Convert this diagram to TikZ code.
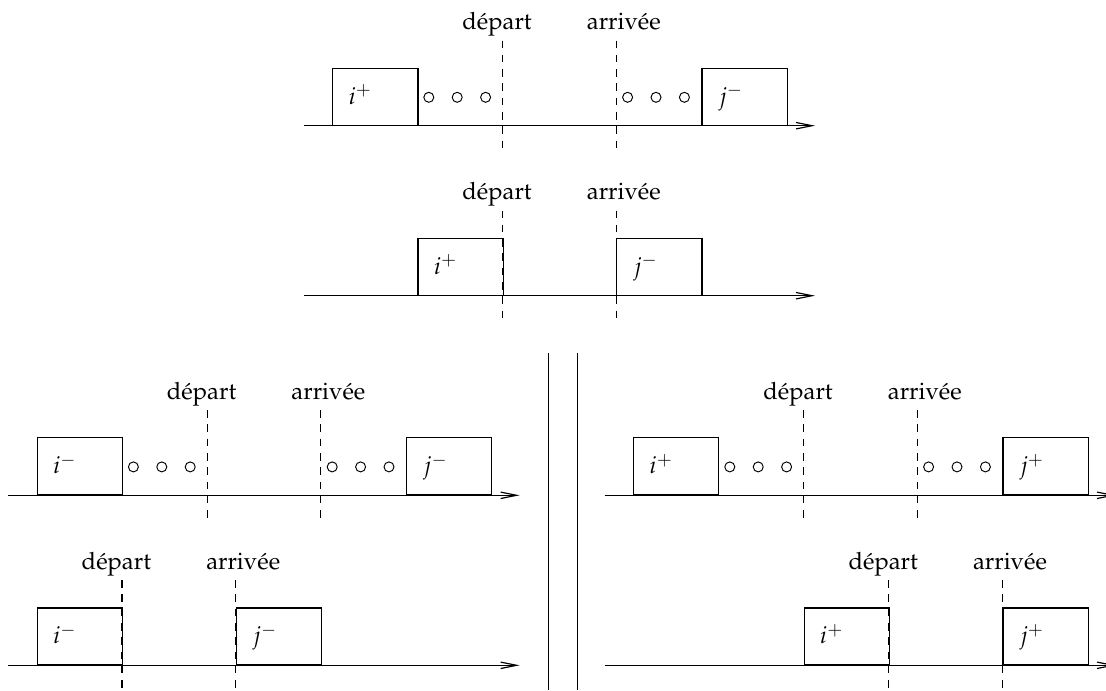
\documentclass[tikz,border=0pt]{standalone}
\usepackage[T1]{fontenc}
\usepackage{mathpazo}
\usetikzlibrary{arrows.meta}
\begin{document}
\begin{tikzpicture}[x=0.42pt,y=0.42pt,
  box/.style={draw, line width=0.5pt, minimum width=35.78pt, minimum height=23.86pt, inner sep=0pt, anchor=south west},
  axis/.style={line width=0.5pt, -{Straight Barb[length=6.7pt,width=2.7pt]}},
  cut/.style={dash pattern=on 3.2pt off 2.8pt, line width=0.55pt},
  lab/.style={anchor=base, inner sep=0pt},
  sym/.style={anchor=base west, inner sep=0pt},
  dot/.style={circle, draw, line width=0.4pt, minimum size=4.2pt, inner sep=0pt},
  sep/.style={line width=0.5pt}]
\path[use as bounding box] (0,0) rectangle (1106,690);
\clip (0,0) rectangle (1106,690);

% ---------- diagram 1 ----------
\coordinate (a1s) at (303.8,564.3); \coordinate (a1e) at (815,564.3);
\draw[axis] (a1s) -- (a1e);
\node[box] (i1) at (332.2,564.3) {};
\node[box] (j1) at (701.4,564.3) {};
\node[sym] (ti1) at (348.2,585.8) {$i^+$};
\node[sym] (tj1) at (718.4,585.8) {$j^-$};
\coordinate (d1t) at (502.6,649.5); \coordinate (d1b) at (502.6,535.9);
\coordinate (r1t) at (616.2,649.5); \coordinate (r1b) at (616.2,535.9);
\draw[cut] (d1t) -- (d1b);
\draw[cut] (r1t) -- (r1b);
\node[lab] (ld1) at (497,660.3) {d\'epart};
\node[lab] (lr1) at (623.8,660.3) {arriv\'ee};
\foreach \x [count=\k] in {428.8,457.2,485.6,627.6,656,684.4}
  \node[dot] (c1\k) at (\x,592.7) {};

% ---------- diagram 2 ----------
\coordinate (a2s) at (303.8,394.3); \coordinate (a2e) at (815,394.3);
\draw[axis] (a2s) -- (a2e);
\node[box] (i2) at (417.4,394.3) {};
\node[box] (j2) at (616.2,394.3) {};
\node[sym] (ti2) at (433.4,415.8) {$i^+$};
\node[sym] (tj2) at (633.2,415.8) {$j^-$};
\coordinate (d2t) at (502.6,479.5); \coordinate (d2b) at (502.6,365.9);
\coordinate (r2t) at (616.2,479.5); \coordinate (r2b) at (616.2,365.9);
\draw[cut] (d2t) -- (d2b);
\draw[cut] (r2t) -- (r2b);
\node[lab] (ld2) at (497,490.3) {d\'epart};
\node[lab] (lr2) at (623.8,490.3) {arriv\'ee};

% ---------- separators ----------
\coordinate (s1t) at (548.3,336.7); \coordinate (s1b) at (548.3,0);
\coordinate (s2t) at (577.3,336.7); \coordinate (s2b) at (577.3,0);
\draw[sep] (s1t) -- (s1b);
\draw[sep] (s2t) -- (s2b);

% ---------- diagram 3 ----------
\coordinate (a3s) at (8.3,194.7); \coordinate (a3e) at (519.6,194.7);
\draw[axis] (a3s) -- (a3e);
\node[box] (i3) at (36.7,194.7) {};
\node[box] (j3) at (406,194.7) {};
\node[sym] (ti3) at (52.7,216.2) {$i^-$};
\node[sym] (tj3) at (423,216.2) {$j^-$};
\coordinate (d3t) at (207.2,279.9); \coordinate (d3b) at (207.2,166.3);
\coordinate (r3t) at (320.8,279.9); \coordinate (r3b) at (320.8,166.3);
\draw[cut] (d3t) -- (d3b);
\draw[cut] (r3t) -- (r3b);
\node[lab] (ld3) at (201.6,290.7) {d\'epart};
\node[lab] (lr3) at (328.4,290.7) {arriv\'ee};
\foreach \x [count=\k] in {133.4,161.8,190.2,332.2,360.6,389}
  \node[dot] (c3\k) at (\x,223.1) {};

% ---------- diagram 4 ----------
\coordinate (a4s) at (8.3,24.7); \coordinate (a4e) at (519.6,24.7);
\draw[axis] (a4s) -- (a4e);
\node[box] (i4) at (36.7,24.7) {};
\node[box] (j4) at (235.6,24.7) {};
\node[sym] (ti4) at (52.7,46.2) {$i^-$};
\node[sym] (tj4) at (252.6,46.2) {$j^-$};
\coordinate (d4t) at (122,109.9); \coordinate (d4b) at (122,-3.7);
\coordinate (r4t) at (235.6,109.9); \coordinate (r4b) at (235.6,-3.7);
\draw[cut] (d4t) -- (d4b);
\draw[cut] (r4t) -- (r4b);
\node[lab] (ld4) at (116.4,120.7) {d\'epart};
\node[lab] (lr4) at (243.2,120.7) {arriv\'ee};

% ---------- diagram 5 ----------
\coordinate (a5s) at (604.7,194.7); \coordinate (a5e) at (1116,194.7);
\draw[axis] (a5s) -- (a5e);
\node[box] (i5) at (633.1,194.7) {};
\node[box] (j5) at (1002.4,194.7) {};
\node[sym] (ti5) at (649.1,216.2) {$i^+$};
\node[sym] (tj5) at (1019.4,216.2) {$j^+$};
\coordinate (d5t) at (803.6,279.9); \coordinate (d5b) at (803.6,166.3);
\coordinate (r5t) at (917.2,279.9); \coordinate (r5b) at (917.2,166.3);
\draw[cut] (d5t) -- (d5b);
\draw[cut] (r5t) -- (r5b);
\node[lab] (ld5) at (798,290.7) {d\'epart};
\node[lab] (lr5) at (924.8,290.7) {arriv\'ee};
\foreach \x [count=\k] in {729.8,758.2,786.6,928.6,957,985.4}
  \node[dot] (c5\k) at (\x,223.1) {};

% ---------- diagram 6 ----------
\coordinate (a6s) at (604.7,24.7); \coordinate (a6e) at (1116,24.7);
\draw[axis] (a6s) -- (a6e);
\node[box] (i6) at (803.6,24.7) {};
\node[box] (j6) at (1002.4,24.7) {};
\node[sym] (ti6) at (819.6,46.2) {$i^+$};
\node[sym] (tj6) at (1019.4,46.2) {$j^+$};
\coordinate (d6t) at (888.8,109.9); \coordinate (d6b) at (888.8,-3.7);
\coordinate (r6t) at (1002.4,109.9); \coordinate (r6b) at (1002.4,-3.7);
\draw[cut] (d6t) -- (d6b);
\draw[cut] (r6t) -- (r6b);
\node[lab] (ld6) at (883.2,120.7) {d\'epart};
\node[lab] (lr6) at (1010,120.7) {arriv\'ee};
\end{tikzpicture}
\end{document}
